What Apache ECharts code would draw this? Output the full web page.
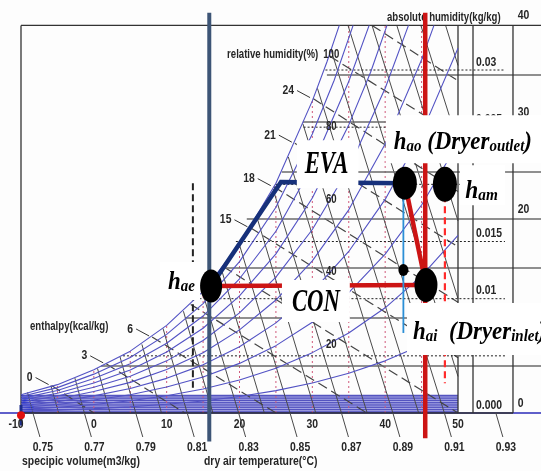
<!DOCTYPE html>
<html>
<head>
<meta charset="utf-8">
<script src="https://cdn.jsdelivr.net/npm/echarts@6/dist/echarts.min.js"></script>
<style>html,body{margin:0;padding:0;background:#fdfdfd}#c{width:541px;height:471px}</style>
</head>
<body>
<div id="c"></div>
<script>
// ================= DATA =================
const tempTicks = [-10, 0, 10, 20, 30, 40, 50];

// dry-bulb (pink dotted) lines: temperature and the humidity where each stops
const dryBulbT = [-5, 0, 5, 10, 15, 20, 25, 30, 35, 40, 45];
const dryBulbTop = [0.00248, 0.00378, 0.00541, 0.00766, 0.01064, 0.01475, 0.0201, 0.0273, 0.0339, 0.0339, 0.0339];

// relative humidity curves [T degC, x kg/kg]
const rh10 = [[-10,0.00016],[-5,0.00025],[0,0.00038],[5,0.00054],[10,0.00076],[15,0.00105],[20,0.00144],[25,0.00196],[30,0.00263],[35,0.00348],[40,0.00456],[45,0.00593],[50,0.00766]];
const rh20 = [[-10,0.00032],[-5,0.00049],[0,0.00075],[5,0.00107],[10,0.00151],[15,0.0021],[20,0.00289],[25,0.00392],[30,0.00528],[35,0.007],[40,0.0092],[45,0.012],[50,0.01554]];
const rh30 = [[-10,0.00048],[-5,0.00074],[0,0.00113],[5,0.0016],[10,0.00227],[15,0.00315],[20,0.00434],[25,0.00589],[30,0.00794],[35,0.01053],[40,0.0139],[45,0.01819],[50,0.0236]];
const rh40 = [[-10,0.00064],[-5,0.00099],[0,0.0015],[5,0.00214],[10,0.00303],[15,0.00421],[20,0.0058],[25,0.00788],[30,0.0106],[35,0.01413],[40,0.01868],[45,0.02448],[50,0.0319]];
const rh50 = [[-10,0.0008],[-5,0.00123],[0,0.00188],[5,0.00268],[10,0.0038],[15,0.00527],[20,0.00727],[25,0.00988],[30,0.01331],[35,0.01777],[40,0.02352],[45,0.0309],[46.7,0.0339]];
const rh60 = [[-10,0.00096],[-5,0.00148],[0,0.00225],[5,0.00322],[10,0.00456],[15,0.00634],[20,0.00876],[25,0.01189],[30,0.01605],[35,0.0214],[40,0.0284],[43.2,0.0339]];
const rh70 = [[-10,0.00112],[-5,0.00173],[0,0.00263],[5,0.00377],[10,0.00533],[15,0.00741],[20,0.01025],[25,0.01392],[30,0.0188],[35,0.0252],[38,0.0298],[40.25,0.0339]];
const rh80 = [[-10,0.00128],[-5,0.00197],[0,0.00301],[5,0.00431],[10,0.0061],[15,0.00848],[20,0.01174],[25,0.0159],[30,0.0216],[35,0.029],[37.8,0.0339]];
const rh90 = [[-10,0.00144],[-5,0.00222],[0,0.0034],[5,0.00486],[10,0.00688],[15,0.00956],[20,0.01324],[25,0.018],[30,0.0244],[33,0.0291],[35.6,0.0339]];
const rh100 = [[-10,0.0016],[-5,0.00248],[0,0.00378],[5,0.00541],[10,0.00766],[15,0.01064],[20,0.01475],[25,0.0201],[30,0.0273],[32,0.0307],[33.7,0.0339]];
const rhCurves = [rh10, rh20, rh30, rh40, rh50, rh60, rh70, rh80, rh90, rh100];
const rhLabelLevels = ['20', '40', '60', '80', '100'];
const rhLabelHum = [0.00595, 0.01233, 0.01863, 0.02501, 0.0313];

// specific volume lines (m3/kg): start and end points
const volValues = [0.75,0.76,0.77,0.78,0.79,0.80,0.81,0.82,0.83,0.84,0.85,0.86,0.87,0.88,0.89,0.90,0.91,0.92,0.93,0.94,0.95,0.96];
const volStart = [[-8.36,0],[-4.83,0],[-1.3,0],[2.23,0],[5.76,0],[9.29,0],[12.82,0],[16.35,0],[19.88,0],[23.41,0],[26.94,0],[30.47,0],[34.0,0],[37.53,0],[41.06,0],[44.6,0],[48.13,0],[50,0.0032],[50,0.01],[50,0.0168],[50,0.0236],[50,0.0304]];
const volEnd = [[-9.1,0.0018],[-5.9,0.0024],[-2.6,0.00305],[0.5,0.0039],[3.6,0.0049],[6.6,0.006],[9.5,0.0074],[12.3,0.0089],[14.9,0.0106],[17.5,0.0126],[20.0,0.0147],[22.4,0.0171],[24.6,0.0196],[26.7,0.0224],[28.7,0.0253],[30.7,0.0284],[32.6,0.0317],[34.9,0.0339],[38.2,0.0339],[41.6,0.0339],[44.9,0.0339],[48.3,0.0339]];
const volLabels = ['0.75','0.77','0.79','0.81','0.83','0.85','0.87','0.89','0.91','0.93'];
const volLabelAxisT = [-8.36, -1.3, 5.76, 12.82, 19.88, 26.94, 34.0, 41.06, 48.13, 55.2];

// enthalpy lines (kcal/kg)
const enthValues = [0, 3, 6, 9, 12, 15, 18, 21, 24, 27, 30];
const enthStart = [[-5.8,0.0024],[1.7,0.0043],[8.0,0.00665],[13.3,0.0095],[17.8,0.0128],[21.5,0.0162],[24.7,0.0198],[27.6,0.0236],[30.1,0.0275],[32.4,0.0312],[38.2,0.0339]];
const enthEnd = [[0,0],[12.5,0],[25,0],[37.5,0],[50,0],[50,0.00484],[50,0.00969],[50,0.01453],[50,0.01937],[50,0.0242],[50,0.02906]];
const enthLabelled = [0, 3, 6, 15, 18, 21, 24];

// absolute humidity (dotted) and vapour pressure (solid) horizontals
const absHum = [0.005, 0.01, 0.015, 0.02, 0.025, 0.03];
const absHumStartT = [4.0, 14.5, 19.5, 24.9, 28.8, 31.8];
const absLabels = ['0.000', '0.005', '0.01', '0.015', '0.02', '0.025', '0.03'];
const absLabelHum = [0, 0.005, 0.01, 0.015, 0.02, 0.025, 0.03];
const vpHum = [0.00411, 0.00831, 0.01268, 0.01697, 0.02108, 0.02545, 0.02956];
const vpStartT = [1.0, 12.5, 17.5, 21.0, 25.8, 28.7, 32.0];
const vpLabels = ['0', '10', '20', '30', '40'];
const vpLabelHum = [0, 0.00831, 0.01697, 0.02545, 0.0339];
const bandStripes = [0.0002, 0.0004, 0.0006, 0.0008, 0.001, 0.0012, 0.0014];
const bandTop = 0.0016;

// process overlay
const stateNames = ['h_ae', 'h_ao', 'h_am', 'h_ai', 'mix'];
const statePoints = [[16.1,0.0111],[42.7,0.0201],[48.2,0.0200],[45.6,0.0112],[42.5,0.0125]];
const evaPath = [[16.1,0.0111],[25.7,0.0202],[42.7,0.0201]];
const conPath = [[16.1,0.0111],[45.6,0.0112]];
const dryerPath = [[42.7,0.0201],[45.6,0.0112]];
const bypassLine = [[42.5,0.0201],[42.5,0.0070]];
const ambientLine = [[48.2,0.0200],[48.2,0.0026]];
const evapTempLine = [[15.85,0.035],[15.85,-0.0025]];
const dryerTempLine = [[45.5,0.035],[45.5,-0.0022]];
const dewLine = [[13.6,0.0201],[13.6,0.0022]];

// ================= LAYOUT / STYLE =================
const W = 541, H = 471;
const PX_PER_DEG = 437 / 60;
const PX_PER_HUM = 11433;
const X_MIN = -10 - 21 / PX_PER_DEG, X_MAX = X_MIN + W / PX_PER_DEG;
const Y_MAX = 413 / PX_PER_HUM, Y_MIN = Y_MAX - H / PX_PER_HUM;
const T_LO = -10, T_HI = 50, HUM_TOP = 0.0339;
const TABLE_T1 = 52.06, TABLE_T2 = 57.55, TABLE_LBL1 = 52.47, TABLE_LBL2 = 58.2, DOT_LINE_END = 56.45;
const RH_LABEL_T = 32.6;
const SMALL = {fill:'#262626', fontFamily:'Liberation Sans', fontWeight:'bold', fontSize:12};
const SX = 0.8;
const GRAY = '#4a4a4a';

const S = [];
function lines(list, style, z) {
  S.push({type:'lines', coordinateSystem:'cartesian2d', polyline:true, silent:true, z:z,
    lineStyle:Object.assign({opacity:1, width:1}, style), data:list.map(c => ({coords:c}))});
}
function curve(pts, style, z) {
  S.push({type:'line', data:pts, smooth:false, showSymbol:false, symbol:'none',
    silent:true, z:z, lineStyle:Object.assign({width:1}, style)});
}
function texts(points, labels, opt, z) {
  S.push({type:'custom', coordinateSystem:'cartesian2d', silent:true, z:z, data:points,
    renderItem:function (params, api) {
      const p = api.coord([api.value(0), api.value(1)]);
      const o = typeof opt === 'function' ? opt(params.dataIndex) : opt;
      return {type:'text', x:p[0] + (o.dx || 0), y:p[1] + (o.dy || 0), scaleX:o.sx || SX,
        style:Object.assign({text:labels[params.dataIndex], align:o.align || 'center', verticalAlign:'middle'}, SMALL, o.style || {})};
    }});
}

// band at the bottom
S.push({type:'custom', coordinateSystem:'cartesian2d', silent:true, z:1,
  data:[[T_LO, 0, T_HI, bandTop], [T_LO, 0, -8.3, bandTop * 0.95]],
  renderItem:function (params, api) {
    const a = api.coord([api.value(0), api.value(1)]);
    const b = api.coord([api.value(2), api.value(3)]);
    return {type:'rect', shape:{x:a[0], y:b[1], width:b[0]-a[0], height:a[1]-b[1]},
      style:{fill: params.dataIndex === 0 ? '#5454c0' : '#1f2fd0'}};
  }});
lines(bandStripes.map(v => [[T_LO, v], [T_HI, v]]), {color:'#a9a9e6', width:1}, 1);
lines([[[X_MIN, 0], [X_MAX, 0]]], {color:'#2a2ab8', width:1.5}, 1);

// grid lines
lines(dryBulbT.map((t, i) => [[t, 0], [t, dryBulbTop[i]]]), {color:'#d0587a', width:1, type:[2,3]}, 2);
rhCurves.forEach(c => curve(c, {color:'#5252c4', width:1.1}, 2));
lines(volValues.map((v, i) => [volStart[i], volEnd[i]]), {color:GRAY, width:1}, 2);
lines(enthValues.map((h, i) => [enthStart[i], enthEnd[i]]), {color:'#444', width:1.2, type:[10,5]}, 2);
lines(absHum.map((x, i) => [[absHumStartT[i], x], [DOT_LINE_END, x]]), {color:'#222', width:1, type:[2,2]}, 2);
lines(vpHum.map((x, i) => [[vpStartT[i], x], [X_MAX, x]]), {color:'#6a6a6a', width:1.6}, 2);

// frame and table
lines([
  [[T_LO, 0], [T_LO, HUM_TOP]],
  [[T_LO, HUM_TOP], [X_MAX, HUM_TOP]],
  [[T_HI, 0], [T_HI, HUM_TOP]],
  [[TABLE_T1, 0], [TABLE_T1, HUM_TOP]],
  [[TABLE_T2, 0], [TABLE_T2, HUM_TOP]],
  [[T_LO, 0], [TABLE_T2, 0]]
], {color:'#333', width:1.3}, 2);
lines([[[T_LO, 0.0007], [T_LO, -0.0011]]], {color:'#1c2c8c', width:3}, 3);

// small texts
texts(tempTicks.map(t => [t, 0]), tempTicks.map(String), i => ({dx: i === 0 ? -5 : 0, dy: 11, style:{fontSize:13}}), 3);
texts(rhLabelHum.map(x => [RH_LABEL_T, x]), rhLabelLevels, {}, 3);
texts([[RH_LABEL_T, rhLabelHum[4]]], ['relative humidity(%)'], {dx:-13, align:'right'}, 3);
texts([[T_HI, HUM_TOP]], ['absolute humidity(kg/kg)'], {dx:-71, dy:-8, align:'left'}, 3);
texts([[T_LO, 0]], ['enthalpy(kcal/kg)'], {dx:9, dy:-86, align:'left'}, 3);
texts([[T_LO, 0]], ['specipic volume(m3/kg)'], {dx:1, dy:48, align:'left', style:{fontSize:13}}, 3);
texts([[T_LO, 0]], ['dry air temperature(°C)'], {dx:183, dy:48, align:'left', style:{fontSize:13}}, 3);
texts(absLabelHum.map(x => [TABLE_LBL1, x]), absLabels, {dy:-8, align:'left', style:{fontSize:13}}, 3);
texts(vpLabelHum.map(x => [TABLE_LBL2, x]), vpLabels, {dy:-10, align:'left', style:{fontSize:13}}, 3);

// specific volume labels with stubs
S.push({type:'custom', coordinateSystem:'cartesian2d', silent:true, z:3,
  data:volLabelAxisT.map(t => [t, 0]),
  renderItem:function (params, api) {
    const p = api.coord([api.value(0), api.value(1)]);
    return {type:'group', children:[
      {type:'line', shape:{x1:p[0], y1:p[1], x2:p[0] + 7, y2:p[1] + 24}, style:{stroke:GRAY, lineWidth:1}},
      {type:'text', x:p[0] + 10, y:p[1] + 34, scaleX:SX,
        style:Object.assign({text:volLabels[params.dataIndex], align:'center', verticalAlign:'middle'}, SMALL, {fontSize:13})}
    ]};
  }});
// enthalpy labels with leaders
const enthLabelPts = enthLabelled.map(h => enthStart[enthValues.indexOf(h)]);
S.push({type:'custom', coordinateSystem:'cartesian2d', silent:true, z:3,
  data:enthLabelPts,
  renderItem:function (params, api) {
    const p = api.coord([api.value(0), api.value(1)]);
    return {type:'group', children:[
      {type:'line', shape:{x1:p[0] - 16, y1:p[1] - 8, x2:p[0] - 3, y2:p[1] - 1}, style:{stroke:'#333', lineWidth:1}},
      {type:'text', x:p[0] - 19, y:p[1] - 8, scaleX:SX,
        style:Object.assign({text:String(enthLabelled[params.dataIndex]), align:'right', verticalAlign:'middle'}, SMALL, {fontSize:13})}
    ]};
  }});

// process overlay lines
lines([evapTempLine], {color:'#3d5576', width:4}, 4);
lines([dryerTempLine], {color:'#cc1414', width:4.5}, 4);
lines([dewLine], {color:'#222', width:2, type:[7,4]}, 4);
lines([evaPath], {color:'#16307a', width:4.5}, 4);
lines([conPath, dryerPath], {color:'#cc1414', width:4.5}, 4);
lines([bypassLine], {color:'#2b8fd6', width:1.8}, 4);
lines([ambientLine], {color:'#ff2a2a', width:2.2, type:[7,4]}, 4);

// annotation boxes
const SERIF = {fontFamily:'Liberation Serif', fontStyle:'italic', fontWeight:'bold', fill:'#000'};
const RICH = {
  h: Object.assign({fontSize:26, lineHeight:30, verticalAlign:'bottom'}, SERIF),
  s: Object.assign({fontSize:17, lineHeight:6, verticalAlign:'bottom'}, SERIF)
};
const boxLabels = [
  {text:'{h|h}{s|ae}', at:0, dx:-51, dy:-24, pad:[3,6,5,9], sx:0.88},
  {text:'{h|h}{s|ao}{h| (Dryer}{s|outlet}{h|)}', at:1, dx:-19, dy:-68, pad:[10,16,8,9], sx:0.88},
  {text:'{h|h}{s|am}', at:2, dx:15, dy:-19, pad:[9,8,1,6], sx:0.9},
  {text:'{h|h}{s|ai}{h|  (Dryer}{s|inlet}{h|)}', at:3, dx:-19, dy:18, pad:[12,16,10,7], sx:0.88},
  {text:'EVA', at:1, dx:-108, dy:-43, pad:[8,14,6,11], sx:0.71, big:true},
  {text:'CON', at:3, dx:-144, dy:-5, pad:[6,14,2,14], sx:0.71, big:true}
];
S.push({type:'custom', coordinateSystem:'cartesian2d', silent:true, z:6,
  data:boxLabels.map(b => statePoints[b.at]),
  renderItem:function (params, api) {
    const b = boxLabels[params.dataIndex];
    const p = api.coord([api.value(0), api.value(1)]);
    const st = b.big
      ? Object.assign({text:b.text, fontSize:32, lineHeight:34}, SERIF)
      : Object.assign({text:b.text, rich:RICH, fontSize:26}, SERIF);
    Object.assign(st, {align:'left', verticalAlign:'top', backgroundColor:'#fff', padding:b.pad});
    return {type:'text', x:p[0] + b.dx, y:p[1] + b.dy, scaleX:b.sx, style:st};
  }});

// state points
const DOT_SIZES = [[22,33],[24,33],[24,35],[23,34],[10,12]];
S.push({type:'scatter', silent:true, z:8, symbol:'circle',
  data:statePoints.map((p, i) => ({name:stateNames[i], value:p, symbolSize:DOT_SIZES[i]})),
  itemStyle:{color:'#000', opacity:1}});
S.push({type:'scatter', silent:true, z:8, symbol:'circle', symbolSize:8,
  data:[[T_LO, -0.0002]], itemStyle:{color:'#e01010', opacity:1}});

const chart = echarts.init(document.getElementById('c'), null, {renderer:'canvas'});
chart.setOption({
  animation:false,
  backgroundColor:'#fdfdfd',
  grid:{left:0, right:0, top:0, bottom:0},
  xAxis:{type:'value', min:X_MIN, max:X_MAX, show:false},
  yAxis:{type:'value', min:Y_MIN, max:Y_MAX, show:false},
  series:S
});
</script>
</body>
</html>
